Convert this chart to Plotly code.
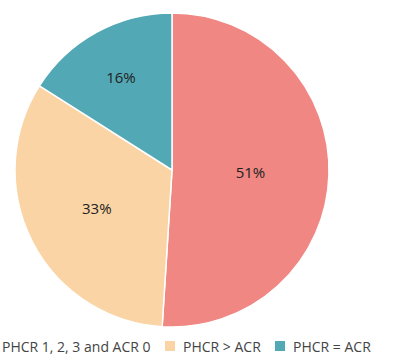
import plotly.graph_objects as go

categories = ["PHCR 1, 2, 3 and ACR 0", "PHCR > ACR", "PHCR = ACR"]
values = [51, 33, 16]
colors = ["#F08783", "#FAD4A4", "#52A8B4"]

W, H = 394, 355
cx, cy, r = 172, 170, 157

fig = go.Figure(go.Pie(
    labels=categories,
    values=values,
    sort=False,
    direction="clockwise",
    rotation=0,
    marker=dict(colors=colors, line=dict(color="white", width=1.5)),
    textinfo="percent",
    texttemplate="%{percent:.0%}",
    textposition="inside",
    insidetextorientation="horizontal",
    textfont=dict(family="Open Sans", size=15, color="#222222"),
    domain=dict(x=[(cx - r) / W, (cx + r) / W], y=[(H - cy - r) / H, (H - cy + r) / H]),
    hoverinfo="label+percent",
    showlegend=False,
))

# Manual horizontal legend at the bottom (first swatch falls off the left edge, as in the reference)
text_left = [2, 183, 293]   # px, left edge of each legend label
legend_y = 346              # px, vertical centre of the legend row
shapes = []
annotations = []
for name, col, tx in zip(categories, colors, text_left):
    x0 = tx - 18
    shapes.append(dict(
        type="rect", xref="paper", yref="paper",
        x0=x0 / W, x1=(x0 + 10) / W,
        y0=1 - (legend_y + 5) / H, y1=1 - (legend_y - 5) / H,
        fillcolor=col, line=dict(width=0),
    ))
    annotations.append(dict(
        text=name, xref="paper", yref="paper",
        x=(tx - 2) / W, y=1 - legend_y / H,
        xanchor="left", yanchor="middle", showarrow=False,
        font=dict(family="Open Sans", size=14, color="#444444"),
    ))

fig.update_layout(
    width=W, height=H,
    margin=dict(l=0, r=0, t=0, b=0),
    paper_bgcolor="white",
    shapes=shapes,
    annotations=annotations,
)

fig.write_html("out.html")
